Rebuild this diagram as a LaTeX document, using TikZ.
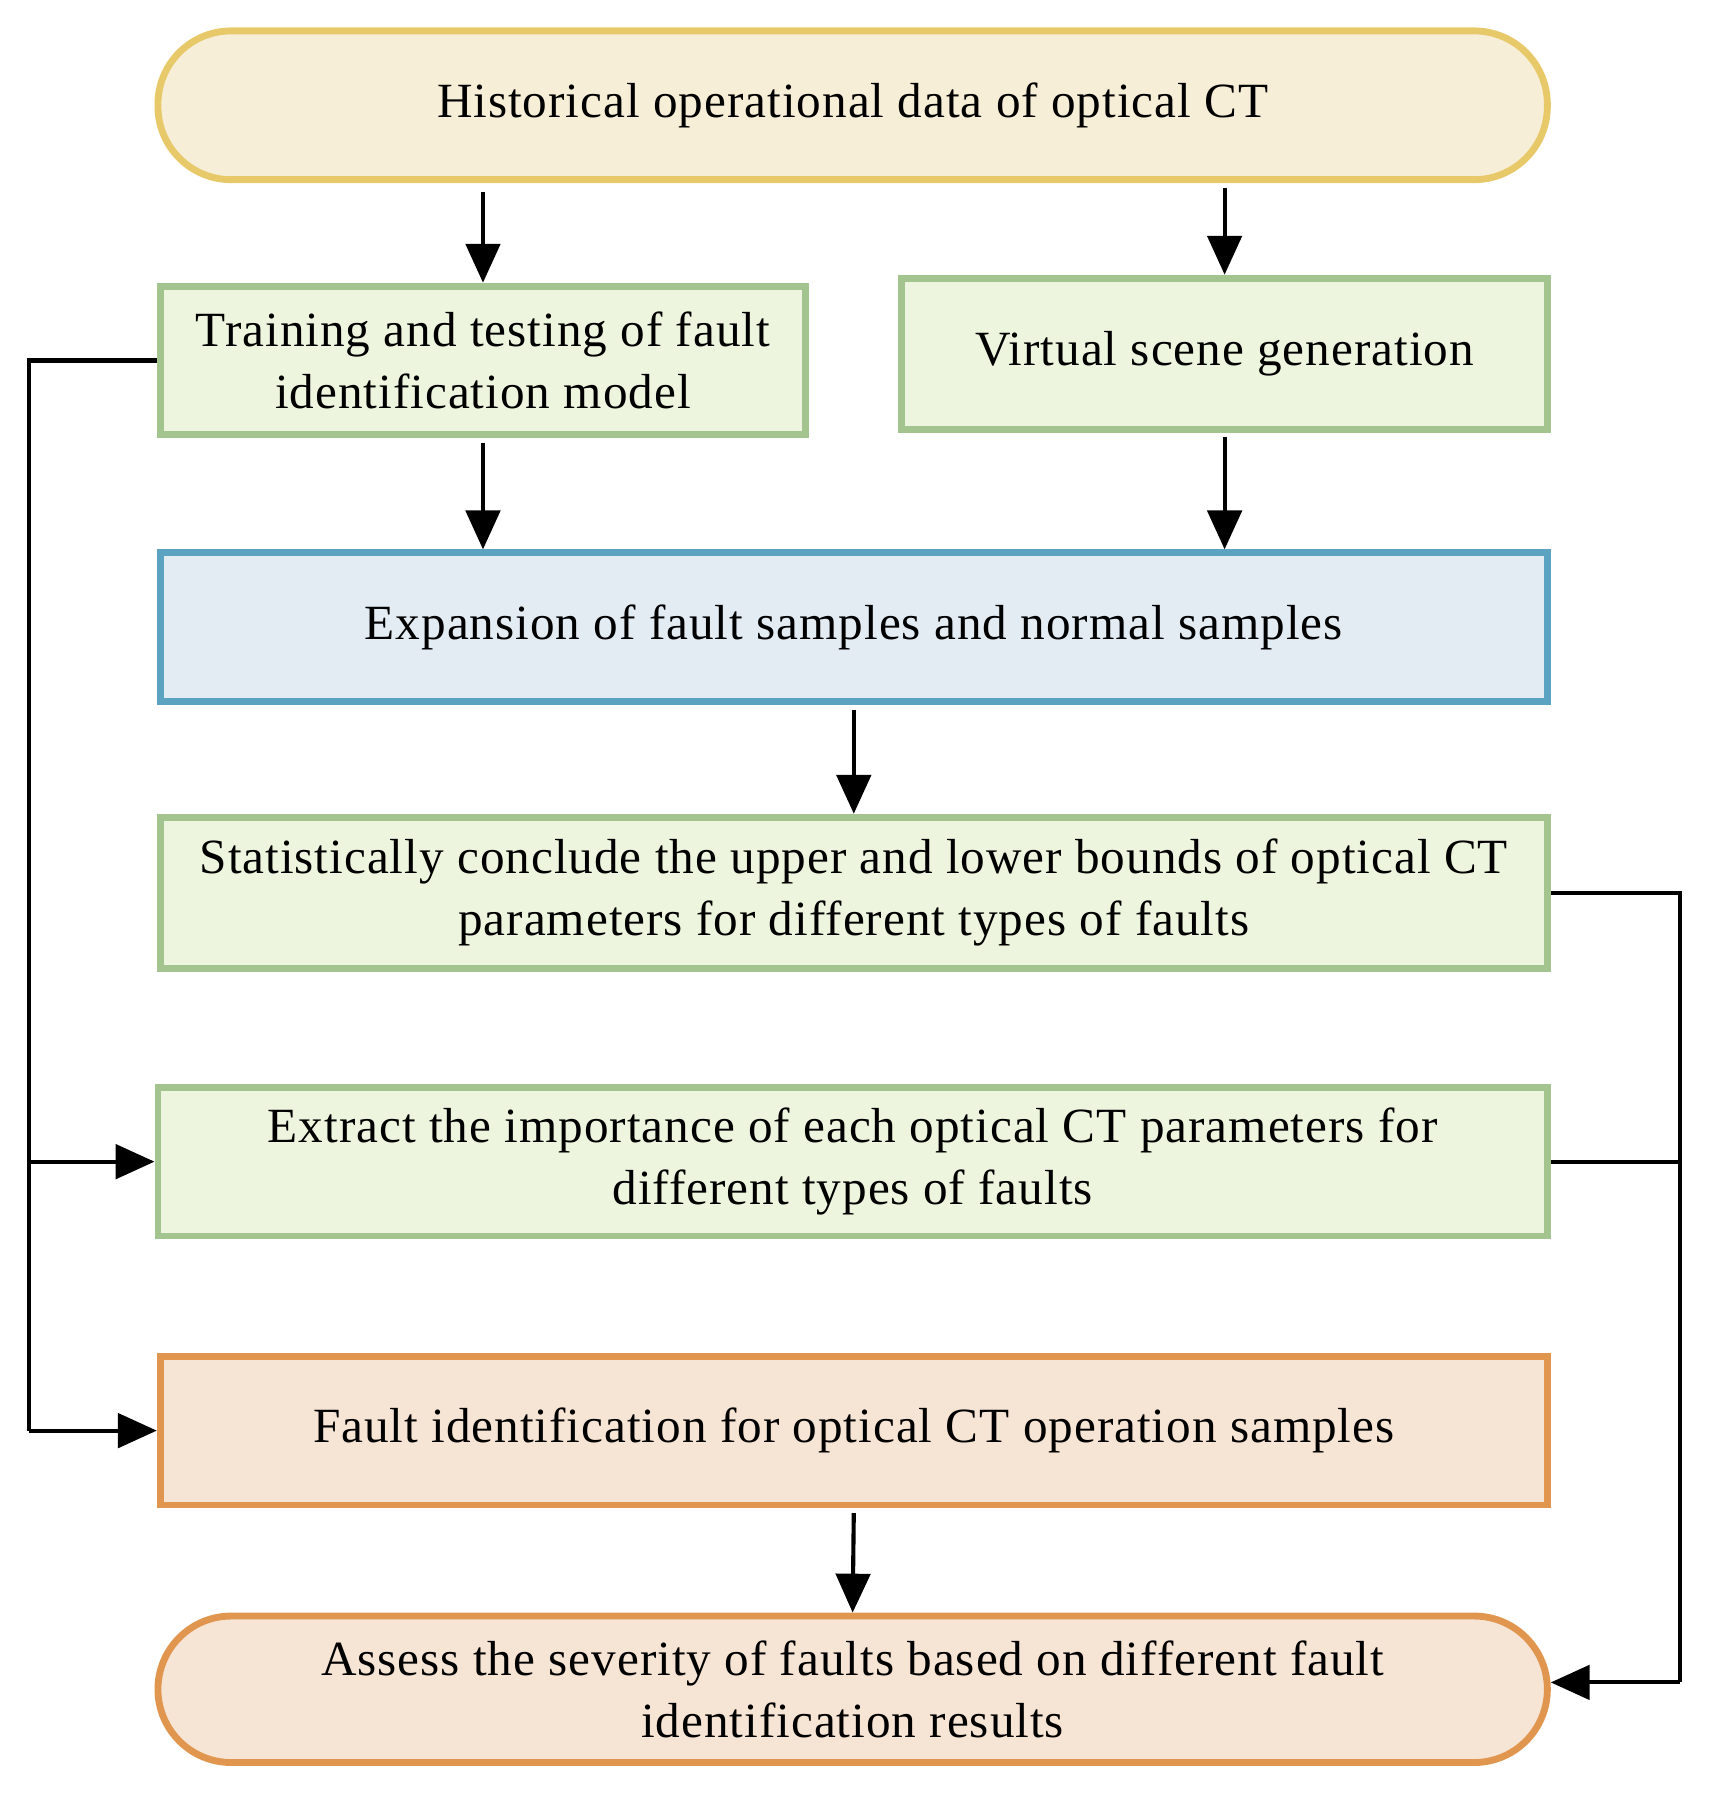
\documentclass[tikz,border=0pt]{standalone}
\usepackage{fontspec}
\setmainfont{Liberation Serif}[LetterSpace=2]
\usetikzlibrary{arrows.meta}
\definecolor{ybd}{HTML}{E8C96A}\definecolor{yfl}{HTML}{F7EED8}
\definecolor{gbd}{HTML}{A3C48E}\definecolor{gfl}{HTML}{EEF5DF}
\definecolor{bbd}{HTML}{5BA3C0}\definecolor{bfl}{HTML}{E3EBF3}
\definecolor{obd}{HTML}{E0964F}\definecolor{ofl}{HTML}{F6E4D4}
\begin{document}
\begin{tikzpicture}[x=0.5pt,y=-0.5pt,
  box/.style={draw,line width=3pt,align=center,inner sep=0pt,font=\fontsize{21.5}{27}\selectfont},
  pill/.style={box,rounded corners=32pt},
  arr/.style={line width=1.8pt,-{Triangle[length=17pt,width=15pt]}},
  ln/.style={line width=1.8pt}]
\useasboundingbox (0,0) rectangle (1500,1578);
\node[pill,draw=ybd,fill=yfl,minimum width=607pt,minimum height=65pt] (top) at (745,92) {Historical operational data of optical CT};
\node[box,draw=gbd,fill=gfl,minimum width=282pt,minimum height=65pt] (train) at (422,315) {Training and testing of fault\\identification model};
\node[box,draw=gbd,fill=gfl,minimum width=282pt,minimum height=66pt] (virt) at (1070,309) {Virtual scene generation};
\node[box,draw=bbd,fill=bfl,minimum width=606pt,minimum height=65pt] (exp) at (746,548) {Expansion of fault samples and normal samples};
\node[box,draw=gbd,fill=gfl,minimum width=606pt,minimum height=66pt] (stat) at (746,780) {Statistically conclude the upper and lower bounds of optical CT\\parameters for different types of faults};
\node[box,draw=gbd,fill=gfl,minimum width=607pt,minimum height=65pt] (extr) at (745,1015) {Extract the importance of each optical CT parameters for\\different types of faults};
\node[box,draw=obd,fill=ofl,minimum width=606pt,minimum height=65pt] (fid) at (746,1250) {Fault identification for optical CT operation samples};
\node[pill,draw=obd,fill=ofl,minimum width=607pt,minimum height=64pt] (ass) at (745,1476) {Assess the severity of faults based on different fault\\identification results};
\coordinate (L1) at (25,315); \coordinate (L2) at (25,1015); \coordinate (L3) at (25,1250);
\coordinate (R1) at (1468,780); \coordinate (R2) at (1468,1015); \coordinate (R3) at (1468,1470);
\draw[arr] ([yshift=-4pt]top.south -| train.north) -- (train.north);
\draw[arr] ([yshift=-2pt]top.south -| virt.north) -- (virt.north);
\draw[arr] ([yshift=-2pt]train.south) -- (train.south |- exp.north);
\draw[arr] ([yshift=-2pt]virt.south) -- (virt.south |- exp.north);
\draw[arr] ([yshift=-2pt]exp.south) -- (stat.north);
\draw[arr] ([yshift=-2pt]fid.south) -- (ass.north);
\draw[ln] (train.west) -- (L1) -- (L3);
\draw[arr] (L3) -- (fid.west);
\draw[arr] (L2) -- (extr.west);
\draw[ln] (stat.east) -- (R1) -- (R3);
\draw[ln] (extr.east) -- (R2);
\draw[arr] (R3) -- (ass.east |- R3);
\end{tikzpicture}
\end{document}
